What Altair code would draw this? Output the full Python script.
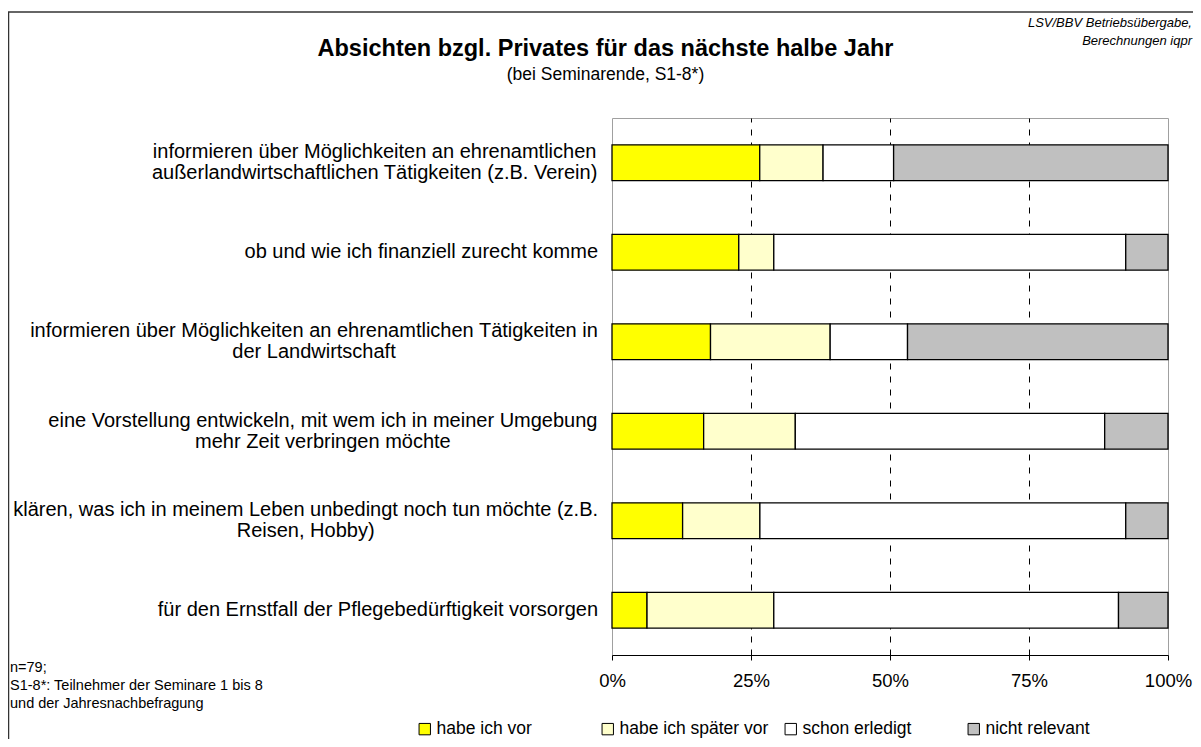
import altair as alt
import pandas as pd

# ---------------- data ----------------
categories = [
    "informieren über Möglichkeiten an ehrenamtlichen\naußerlandwirtschaftlichen Tätigkeiten (z.B. Verein)",
    "ob und wie ich finanziell zurecht komme",
    "informieren über Möglichkeiten an ehrenamtlichen Tätigkeiten in\nder Landwirtschaft",
    "eine Vorstellung entwickeln, mit wem ich in meiner Umgebung\nmehr Zeit verbringen möchte",
    "klären, was ich in meinem Leben unbedingt noch tun möchte (z.B.\nReisen, Hobby)",
    "für den Ernstfall der Pflegebedürftigkeit vorsorgen",
]
series = ["habe ich vor", "habe ich später vor", "schon erledigt", "nicht relevant"]
habe_ich_vor = [26.6, 22.8, 17.7, 16.5, 12.7, 6.3]
habe_ich_spaeter_vor = [11.4, 6.3, 21.5, 16.5, 13.9, 22.8]
schon_erledigt = [12.7, 63.3, 13.9, 55.7, 65.8, 62.0]
nicht_relevant = [49.4, 7.6, 46.8, 11.4, 7.6, 8.9]
x_ticks = [0, 0.25, 0.5, 0.75, 1.0]

title_text = "Absichten bzgl. Privates für das nächste halbe Jahr"
subtitle_text = "(bei Seminarende, S1-8*)"
source_text = "LSV/BBV Betriebsübergabe,\nBerechnungen iqpr"
note_text = "n=79;\nS1-8*: Teilnehmer der Seminare 1 bis 8\nund der Jahresnachbefragung"

colors = ["#FFFF00", "#FFFFCC", "#FFFFFF", "#C0C0C0"]
FONT = "Liberation Sans"
LABEL_SIZE = 20
LABEL_LH = 21
LABEL_GAP = 14          # gap between label block and the y axis
PLOT_W, PLOT_H = 556, 537
PAD_IN, PAD_OUT = 0.6, 0.3

# ---- Arial / Liberation Sans advance widths (1/1000 em) to centre wrapped labels ----
W = {" ": 278, "(": 333, ")": 333, "*": 389, ",": 278, "-": 333, ".": 278, "/": 278,
     ":": 278, ";": 278, "=": 584, "%": 889, "ß": 611, "ä": 556, "ö": 556, "ü": 556,
     "A": 667, "B": 667, "C": 722, "D": 722, "E": 667, "F": 611, "G": 778, "H": 722,
     "I": 278, "J": 500, "K": 667, "L": 556, "M": 833, "N": 722, "O": 778, "P": 667,
     "Q": 778, "R": 722, "S": 667, "T": 611, "U": 722, "V": 667, "W": 944, "X": 667,
     "Y": 667, "Z": 611, "a": 556, "b": 556, "c": 500, "d": 556, "e": 556, "f": 278,
     "g": 556, "h": 556, "i": 222, "j": 222, "k": 500, "l": 222, "m": 833, "n": 556,
     "o": 556, "p": 556, "q": 556, "r": 333, "s": 500, "t": 278, "u": 556, "v": 500,
     "w": 722, "x": 500, "y": 500, "z": 500}


def tw(s):
    return sum(W.get(c, 556) for c in s) * LABEL_SIZE / 1000.0


disp = [c.replace("\n", "|") for c in categories]

rows = []
for vals, s_idx in zip([habe_ich_vor, habe_ich_spaeter_vor, schon_erledigt, nicht_relevant], range(4)):
    for cat, v in zip(disp, vals):
        rows.append({"cat": cat, "series": series[s_idx], "idx": s_idx, "value": v})
df = pd.DataFrame(rows)

# label table: centre of each (centred, wrapped) label block and its vertical shift
n_cat = len(categories)
step = PLOT_H / (n_cat - PAD_IN + 2 * PAD_OUT)
half_band = step * (1 - PAD_IN) / 2
lab = pd.DataFrame({
    "cat": disp,
    "xc": [-LABEL_GAP - max(tw(l) for l in c.split("\n")) / 2 for c in categories],
    "shift": [half_band - c.count("\n") * LABEL_LH / 2 for c in categories],
})

ysc = alt.Scale(paddingInner=PAD_IN, paddingOuter=PAD_OUT)

bars = alt.Chart(df).mark_bar(stroke="black", strokeWidth=1.3).encode(
    y=alt.Y("cat:N", sort=disp, scale=ysc,
            axis=alt.Axis(title=None, labels=False,
                          tickBand="extent", tickColor="black", tickSize=5,
                          domainColor="black", domainWidth=1, grid=False)),
    x=alt.X("value:Q", stack="normalize",
            scale=alt.Scale(domain=[0, 1], nice=False),
            axis=alt.Axis(title=None, values=x_ticks, format=".0%",
                          labelFont=FONT, labelFontSize=18.5, labelColor="black",
                          labelPadding=11, labelFlush=False,
                          tickColor="black", tickSize=5, domainColor="black",
                          grid=True, gridColor="black", gridDash=[6, 7], gridWidth=1,
                          gridOpacity=alt.condition("datum.value <= 0 || datum.value >= 1",
                                                    alt.value(0), alt.value(1)))),
    color=alt.Color("series:N", sort=series,
                    scale=alt.Scale(domain=series, range=colors),
                    legend=alt.Legend(orient="none", legendX=-196, legendY=602,
                                      direction="horizontal", title=None,
                                      gridAlign="all", columnPadding=13,
                                      symbolType="square", symbolSize=130,
                                      symbolStrokeColor="black", symbolStrokeWidth=1,
                                      symbolOpacity=1, labelFont=FONT, labelFontSize=17.5,
                                      labelColor="black", labelOffset=3,
                                      padding=0, labelLimit=400)),
    order=alt.Order("idx:Q", sort="ascending"),
)

labels = alt.Chart(lab).mark_text(
    font=FONT, fontSize=LABEL_SIZE, align="center", baseline="middle",
    lineBreak="|", lineHeight=LABEL_LH, color="black").encode(
    y=alt.Y("cat:N", sort=disp, scale=ysc, axis=None),
    yOffset=alt.YOffset("shift:Q", scale=None),
    x=alt.X("xc:Q", scale=None),
    text="cat:N",
)

one = pd.DataFrame({"k": [0]})

frame_top = alt.Chart(one).mark_rule(color="#333333", strokeWidth=1.5).encode(
    x=alt.value(-604), x2=alt.value(581), y=alt.value(-106))
frame_left = alt.Chart(one).mark_rule(color="#333333", strokeWidth=1.5).encode(
    x=alt.value(-603.5), y=alt.value(-106), y2=alt.value(621))

title = alt.Chart(pd.DataFrame({"t": [title_text]})).mark_text(
    font=FONT, fontSize=23.5, fontWeight="bold", align="center", baseline="alphabetic",
    color="black").encode(text="t:N", x=alt.value(-6.5), y=alt.value(-62.5))
subtitle = alt.Chart(pd.DataFrame({"t": [subtitle_text]})).mark_text(
    font=FONT, fontSize=17.5, align="center", baseline="alphabetic",
    color="black").encode(text="t:N", x=alt.value(-6.5), y=alt.value(-38))
source = alt.Chart(pd.DataFrame({"t": [source_text]})).mark_text(
    font=FONT, fontSize=13, fontStyle="italic", align="right", baseline="alphabetic",
    lineBreak="\n", lineHeight=18, color="black").encode(
    text="t:N", x=alt.value(580), y=alt.value(-91))
note = alt.Chart(pd.DataFrame({"t": [note_text]})).mark_text(
    font=FONT, fontSize=14.5, align="left", baseline="alphabetic",
    lineBreak="\n", lineHeight=18, color="black").encode(
    text="t:N", x=alt.value(-602), y=alt.value(554))

chart = alt.layer(frame_top, frame_left, bars, labels, title, subtitle, source, note).properties(
    width=PLOT_W, height=PLOT_H, autosize="none",
    padding={"left": 604, "top": 110, "right": 25, "bottom": 84},
).configure(font=FONT).configure_view(stroke="#A0A0A0", strokeWidth=1)

chart.save("out.html", embed_options={"renderer": "svg", "actions": False})
